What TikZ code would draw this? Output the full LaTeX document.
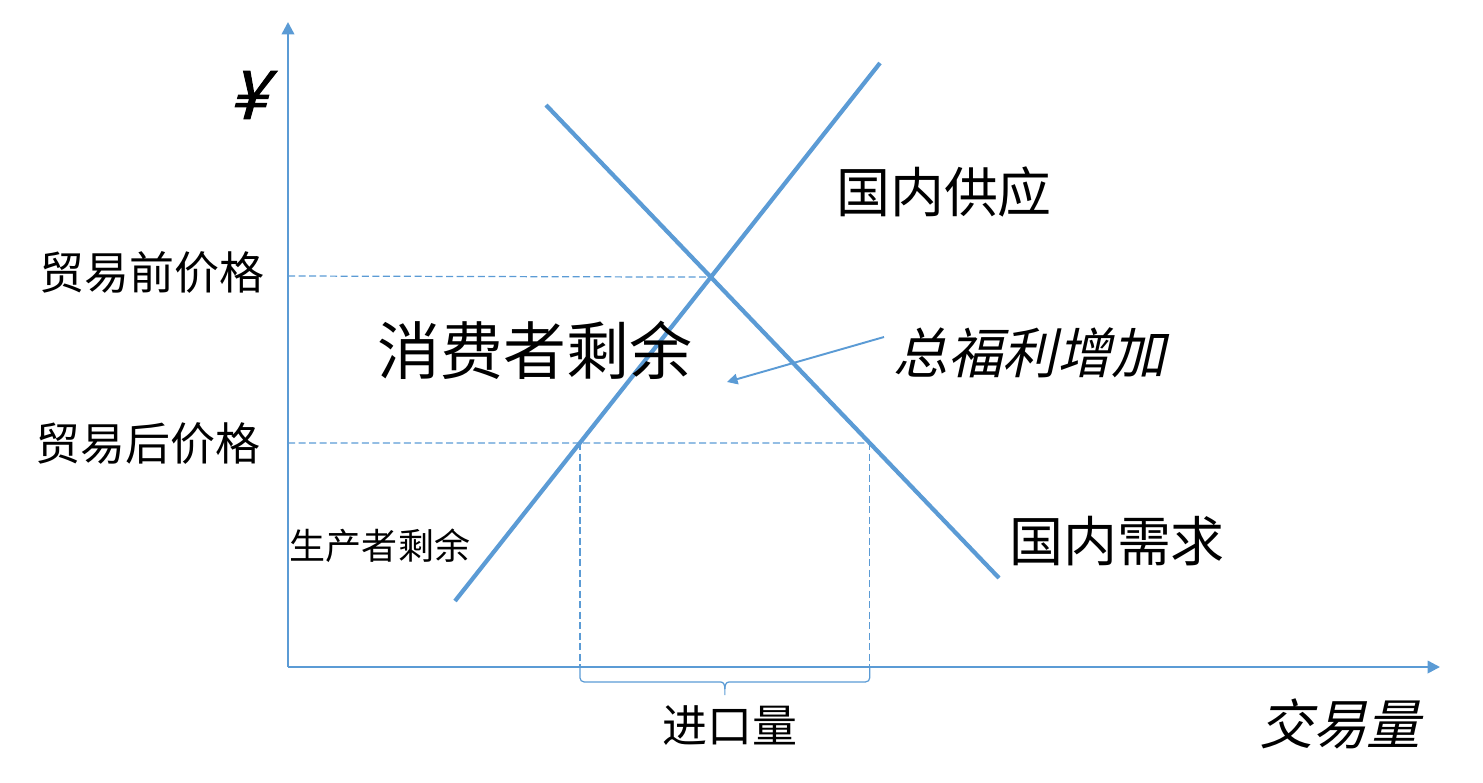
\documentclass[tikz,border=0pt]{standalone}
\usepackage{fontspec}
\setmainfont{Noto Sans CJK SC}
\newfontfamily\slantcjk[FakeSlant=0.22]{Noto Sans CJK SC}
\newfontfamily\yenfont[FakeSlant=0.28, FakeBold=1.6]{Noto Sans CJK SC}
\usetikzlibrary{positioning,arrows.meta,calc}
\definecolor{lineblue}{HTML}{5B9BD5}

\begin{document}
\begin{tikzpicture}[x=0.02cm, y=-0.02cm,
  >={Triangle[length=7pt,width=7pt]},
  axis/.style={draw=lineblue, line width=1.4pt, ->},
  curve/.style={draw=lineblue, line width=2.4pt},
  guide/.style={draw=lineblue, line width=0.7pt, dash pattern=on 4pt off 2pt},
  bracket/.style={draw=lineblue, line width=0.7pt, rounded corners=2.5pt},
  lbl/.style={inner sep=0pt, font=\fontsize{25.6}{30}\selectfont},
]
  \useasboundingbox (0,0) rectangle (1483,782);

  % axes
  \coordinate (origin) at (288,667);
  \coordinate (ytop) at (288,22);
  \coordinate (xend) at (1440,667);
  \draw[axis] (origin) -- (ytop);
  \draw[axis] (origin) -- (xend);
  \node[inner sep=0pt, font=\yenfont\fontsize{38}{42}\selectfont] (yen) at (247,95) {¥};
  \node[lbl, font=\slantcjk\fontsize{30.7}{36}\selectfont] (qty) at (1340,724) {交易量};

  % supply and demand
  \coordinate (s1) at (455,601);
  \coordinate (s2) at (880,63);
  \coordinate (d1) at (546,105);
  \coordinate (d2) at (999,578);
  \draw[curve] (s1) -- (s2);
  \draw[curve] (d1) -- (d2);
  \node[lbl, font=\fontsize{30.7}{36}\selectfont] (supply) at (944,192) {国内供应};
  \node[lbl, font=\fontsize{30.7}{36}\selectfont] (demand) at (1117,541) {国内需求};

  % prices before and after trade
  \coordinate (pre) at (288,276);
  \coordinate (post) at (288,443);
  \coordinate (postfar) at (1440,443);
  \coordinate (eq) at (intersection of s1--s2 and d1--d2);
  \coordinate (sup) at (intersection of s1--s2 and post--postfar);
  \coordinate (dem) at (intersection of d1--d2 and post--postfar);
  \draw[guide] (pre) -- (eq);
  \draw[guide] (post) -- (dem);
  \draw[guide] (sup) -- (sup |- origin);
  \draw[guide] (dem) -- (dem |- origin);
  \node[lbl] (pricepre) at (152,272) {贸易前价格};
  \node[lbl] (pricepost) at (148,444) {贸易后价格};

  % imports
  \path (sup |- origin) ++(0,15) coordinate (bl);
  \path (dem |- origin) ++(0,15) coordinate (br);
  \coordinate (tip) at ($(bl)!0.5!(br)+(0,13)$);
  \draw[bracket] (sup |- origin) -- (bl) -- ($(tip)+(-4,-13)$);
  \draw[bracket] (dem |- origin) -- (br) -- ($(tip)+(4,-13)$);
  \draw[draw=lineblue, line width=0.7pt] ($(tip)+(-4,-13)$) to[out=0,in=90] ($(tip)+(0,-6)$) -- (tip);
  \draw[draw=lineblue, line width=0.7pt] ($(tip)+(4,-13)$) to[out=180,in=90] ($(tip)+(0,-6)$);
  \node[lbl] (imports) at (730,726) {进口量};

  % surpluses
  \node[lbl, font=\fontsize{35.8}{42}\selectfont] (consumer) at (535,350) {消费者剩余};
  \node[lbl, font=\fontsize{20.5}{24}\selectfont] (producer) at (380,546) {生产者剩余};

  % welfare gain
  \node[lbl, font=\slantcjk\fontsize{31}{36}\selectfont] (welfare) at (1030,353) {总福利增加};
  \coordinate (tail) at (884,337);
  \coordinate (gain) at (727,382);
  \draw[lineblue, line width=1.1pt, -{Triangle[length=6pt,width=6pt]}] (tail) -- (gain);
\end{tikzpicture}
\end{document}
